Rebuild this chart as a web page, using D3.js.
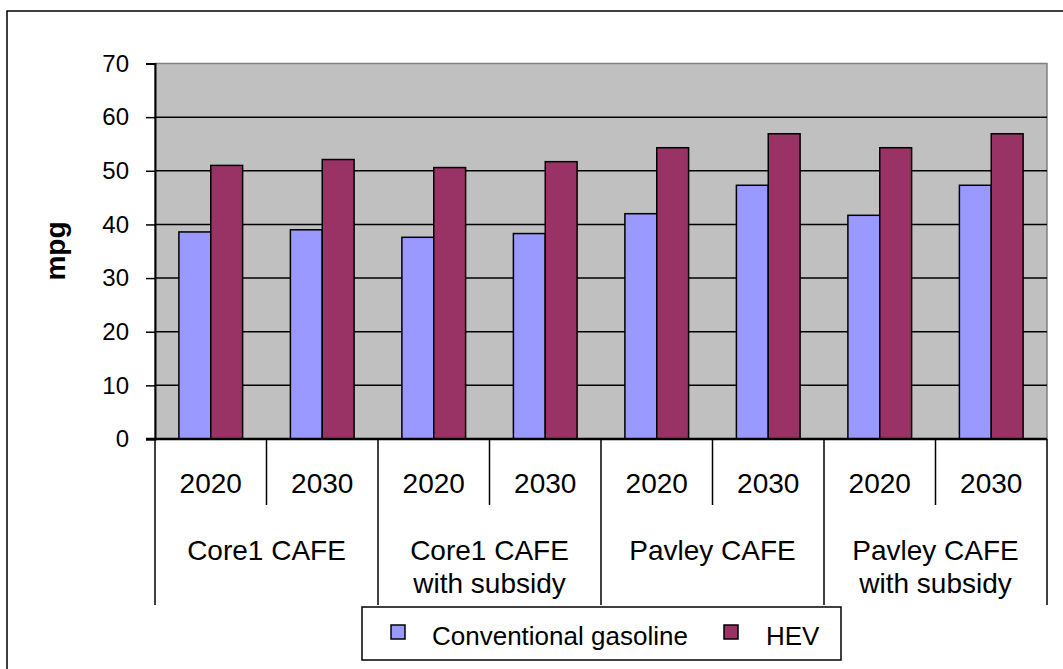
<!DOCTYPE html>
<html>
<head>
<meta charset="utf-8">
<script src="https://cdn.jsdelivr.net/npm/d3@7"></script>
<style>
  html, body { margin: 0; padding: 0; background: #ffffff; }
  svg { display: block; font-family: "Liberation Sans", Arial, sans-serif; }
</style>
</head>
<body>
<div id="chart"></div>
<script>
// Fuel economy by policy scenario and year
const groups = ["Core1 CAFE", "Core1 CAFE with subsidy", "Pavley CAFE", "Pavley CAFE with subsidy"];
const groupLines = [["Core1 CAFE"], ["Core1 CAFE", "with subsidy"], ["Pavley CAFE"], ["Pavley CAFE", "with subsidy"]];
const years = ["2020", "2030"];
const seriesNames = ["Conventional gasoline", "HEV"];
const gasoline = [38.6, 39.0, 37.6, 38.3, 42.0, 47.3, 41.7, 47.3];
const hev = [51.0, 52.1, 50.6, 51.7, 54.3, 56.9, 54.3, 56.9];
const yTicks = [0, 10, 20, 30, 40, 50, 60, 70];
const colors = ["#9999FF", "#993366"];

const W = 1063, H = 669;
const plot = { left: 155, right: 1047, top: 63.5, bottom: 439 };

const cats = [];
groups.forEach((g, gi) => years.forEach(y => cats.push({ key: g + "|" + y, group: gi, year: y })));
const values = [gasoline, hev];

const svg = d3.select("#chart").append("svg").attr("width", W).attr("height", H);

// outer chart frame
svg.append("rect").attr("x", 7).attr("y", 11).attr("width", 1070).attr("height", 680)
  .attr("fill", "#fff").attr("stroke", "#000").attr("stroke-width", 1.5);

const x = d3.scaleBand().domain(cats.map(c => c.key)).range([plot.left, plot.right]).paddingInner(0).paddingOuter(0);
const xs = d3.scaleBand().domain(seriesNames).range([0, x.bandwidth()]).paddingInner(0).paddingOuter(0.75);
const y = d3.scaleLinear().domain([0, 70]).range([plot.bottom, plot.top]);

// plot background
svg.append("rect").attr("x", plot.left).attr("y", plot.top)
  .attr("width", plot.right - plot.left).attr("height", plot.bottom - plot.top)
  .attr("fill", "#C0C0C0").attr("stroke", "#808080").attr("stroke-width", 1.5);

// gridlines
svg.append("g").selectAll("line").data(yTicks.filter(t => t > 0 && t < 70)).join("line")
  .attr("x1", plot.left).attr("x2", plot.right)
  .attr("y1", d => y(d)).attr("y2", d => y(d))
  .attr("stroke", "#000").attr("stroke-width", 1.5);

// bars
const gBars = svg.append("g");
cats.forEach((c, i) => {
  seriesNames.forEach((s, si) => {
    const v = values[si][i];
    gBars.append("rect")
      .attr("x", x(c.key) + xs(s))
      .attr("y", y(v))
      .attr("width", xs.bandwidth())
      .attr("height", y(0) - y(v))
      .attr("fill", colors[si])
      .attr("stroke", "#000").attr("stroke-width", 1.5);
  });
});

// y axis
const yAxis = d3.axisLeft(y).tickValues(yTicks).tickSize(9).tickPadding(17).tickFormat(d3.format("d"));
const ga = svg.append("g").attr("transform", `translate(${plot.left},0)`).call(yAxis);
ga.select(".domain").attr("stroke", "#000").attr("stroke-width", 2);
ga.selectAll(".tick line").attr("stroke", "#000").attr("stroke-width", 1.5);
ga.selectAll(".tick text").attr("font-size", 24).attr("fill", "#000")
  .attr("font-family", "'Liberation Sans', Arial, sans-serif");

// y axis title
svg.append("text").attr("transform", "translate(65,251) rotate(-90)")
  .attr("text-anchor", "middle").attr("font-size", 28).attr("font-weight", "bold").text("mpg");

// x axis line
svg.append("line").attr("x1", plot.left - 9).attr("x2", plot.right)
  .attr("y1", plot.bottom).attr("y2", plot.bottom).attr("stroke", "#000").attr("stroke-width", 2.5);

// year separators (inside each group) and group separators
const gx = svg.append("g");
cats.forEach((c, i) => {
  if (i % 2 === 1) {
    const xx = x(c.key);
    gx.append("line").attr("x1", xx).attr("x2", xx).attr("y1", plot.bottom).attr("y2", 505)
      .attr("stroke", "#000").attr("stroke-width", 1.5);
  }
});
const groupEdges = groups.map((g, gi) => x(g + "|" + years[0])).concat([plot.right]);
groupEdges.forEach(xx => {
  gx.append("line").attr("x1", xx).attr("x2", xx).attr("y1", plot.bottom).attr("y2", 605)
    .attr("stroke", "#000").attr("stroke-width", 1.5);
});

// year labels
svg.append("g").selectAll("text").data(cats).join("text")
  .attr("x", d => x(d.key) + x.bandwidth() / 2)
  .attr("y", 492.5)
  .attr("text-anchor", "middle").attr("font-size", 28).attr("fill", "#000")
  .text(d => d.year);

// group labels
groups.forEach((g, gi) => {
  const cx = (groupEdges[gi] + groupEdges[gi + 1]) / 2;
  const t = svg.append("text").attr("text-anchor", "middle").attr("font-size", 28).attr("fill", "#000");
  groupLines[gi].forEach((line, li) => {
    t.append("tspan").attr("x", cx).attr("y", 560 + li * 33).text(line);
  });
});

// legend
const lg = svg.append("g");
lg.append("rect").attr("x", 362).attr("y", 607).attr("width", 479).attr("height", 53)
  .attr("fill", "#fff").attr("stroke", "#000").attr("stroke-width", 1.5);
const legendItems = [
  { name: seriesNames[0], sx: 391, tx: 432 },
  { name: seriesNames[1], sx: 724, tx: 766 }
];
legendItems.forEach((it, i) => {
  lg.append("rect").attr("x", it.sx).attr("y", 625).attr("width", 14).attr("height", 14)
    .attr("fill", colors[i]).attr("stroke", "#000").attr("stroke-width", 1.5);
  lg.append("text").attr("x", it.tx).attr("y", 645).attr("font-size", 26).attr("fill", "#000").text(it.name);
});
</script>
</body>
</html>
